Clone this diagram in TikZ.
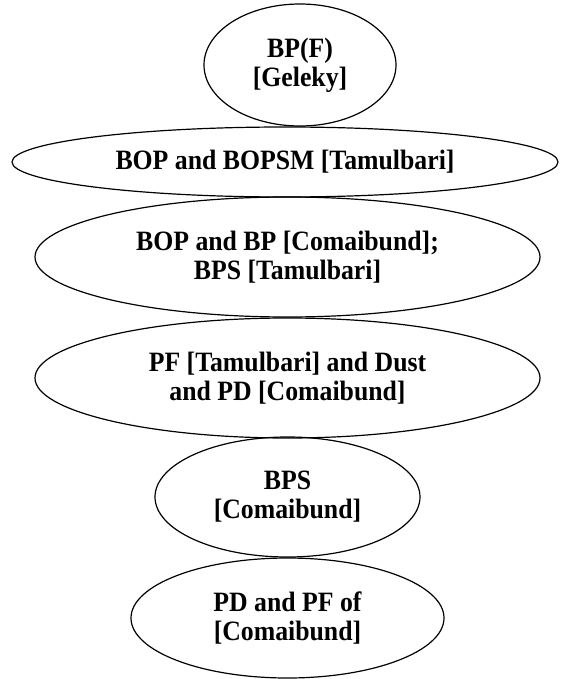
\documentclass[tikz,border=0pt]{standalone}
\usepackage{fontspec}
\setmainfont{Liberation Serif}
\newfontfamily\ovalfont[FakeStretch=0.92]{Liberation Serif}
\usetikzlibrary{shapes.geometric}
\begin{document}
\begin{tikzpicture}[x=1pt,y=1pt,
  oval/.style={ellipse, draw=black, line width=1.2pt, inner sep=0pt, align=center,
    font=\ovalfont\fontsize{28}{29}\selectfont\bfseries}]
\useasboundingbox (0,0) rectangle (561,-679);
\node[oval, minimum width=192pt, minimum height=122pt] (n1) at (300,-65) {BP(F)\\{}[Geleky]};
\node[oval, minimum width=546pt, minimum height=70pt] (n2) at (285,-162) {BOP and BOPSM [Tamulbari]};
\node[oval, minimum width=505pt, minimum height=120pt] (n3) at (287.5,-257) {BOP and BP [Comaibund];\\BPS [Tamulbari]};
\node[oval, minimum width=505pt, minimum height=120pt] (n4) at (287.5,-378) {PF [Tamulbari] and Dust\\and PD [Comaibund]};
\node[oval, minimum width=265pt, minimum height=120pt] (n5) at (287.5,-497) {BPS\\{}[Comaibund]};
\node[oval, minimum width=313pt, minimum height=120pt] (n6) at (287.5,-618) {PD and PF of\\{}[Comaibund]};
\end{tikzpicture}
\end{document}
